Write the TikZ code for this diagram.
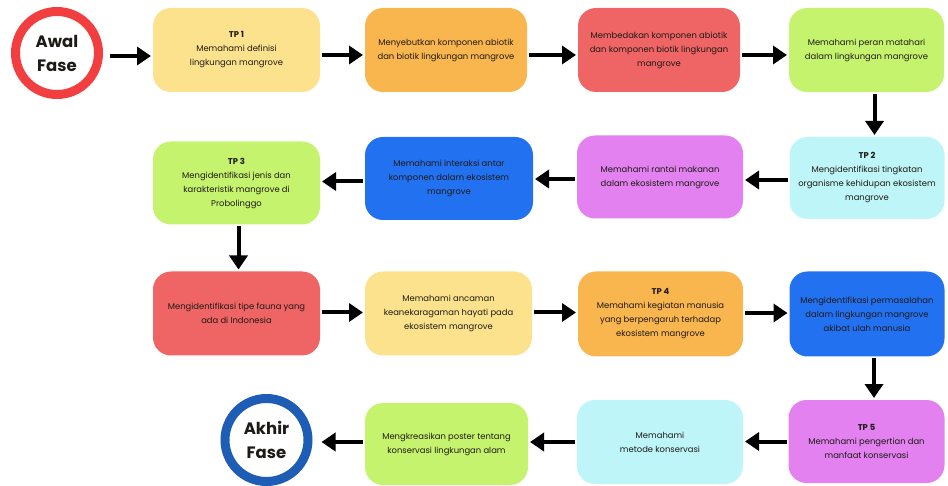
\documentclass[tikz,border=0pt]{standalone}
\usepackage{fontspec}
\setmainfont{Poppins}
\usetikzlibrary{arrows.meta,calc}
\definecolor{cyel}{HTML}{FCE28C}
\definecolor{corg}{HTML}{F9B54E}
\definecolor{cred}{HTML}{EF6464}
\definecolor{clime}{HTML}{C6F36E}
\definecolor{ccyan}{HTML}{BDF5F8}
\definecolor{cmag}{HTML}{E281EF}
\definecolor{cblue}{HTML}{2271F0}
\definecolor{ringred}{HTML}{F23E3E}
\definecolor{ringblue}{HTML}{1E5DB6}
\definecolor{ctext}{HTML}{1E1A16}
\begin{document}
\begin{tikzpicture}[x=1pt,y=-1pt,
  boxnode/.style={rectangle, rounded corners=18pt, inner sep=0pt, outer sep=0pt,
    align=center, text=ctext, font=\fontsize{8.4}{14}\selectfont},
  ringnode/.style={circle, fill=white, line width=9pt, minimum size=83pt, inner sep=0pt,
    align=center, text=ctext, font=\bfseries\fontsize{16.5}{24}\selectfont},
  arr/.style={line width=4pt, -{Triangle[length=14pt,width=18pt]},
    shorten <=2pt, shorten >=2pt}]
\useasboundingbox (0,0) rectangle (948,486);

% circles
\node[ringnode, draw=ringred] (start) at (57,53) {Awal\\Fase};
\node[ringnode, draw=ringblue] (finish) at (266.5,440) {Akhir\\Fase};

% row 1
\node[boxnode, fill=cyel, minimum width=167pt, minimum height=84pt] (b1) at (236.5,50)
  {\textbf{TP 1}\\Memahami definisi\\lingkungan mangrove};
\node[boxnode, fill=corg, minimum width=162pt, minimum height=84pt] (b2) at (446,50)
  {Menyebutkan komponen abiotik\\dan biotik lingkungan mangrove};
\node[boxnode, fill=cred, minimum width=162pt, minimum height=84pt] (b3) at (659,50)
  {Membedakan komponen abiotik\\dan komponen biotik lingkungan\\mangrove};
\node[boxnode, fill=clime, minimum width=155pt, minimum height=84pt] (b4) at (866.5,50)
  {Memahami peran matahari\\dalam lingkungan mangrove};

% row 2
\node[boxnode, fill=ccyan, minimum width=155pt, minimum height=82pt] (b5) at (867,178)
  {\textbf{TP 2}\\Mengidentifikasi tingkatan\\organisme kehidupan ekosistem\\mangrove};
\node[boxnode, fill=cmag, minimum width=166pt, minimum height=83pt] (b6) at (660,177)
  {Memahami rantai makanan\\dalam ekosistem mangrove};
\node[boxnode, fill=cblue, minimum width=168pt, minimum height=83pt] (b7) at (449,178.5)
  {Memahami interaksi antar\\komponen dalam ekosistem\\mangrove};
\node[boxnode, fill=clime, minimum width=167pt, minimum height=83pt] (b8) at (236.5,183)
  {\textbf{TP 3}\\Mengidentifikasi jenis dan\\karakteristik mangrove di\\Probolinggo};

% row 3
\node[boxnode, fill=cred, minimum width=167pt, minimum height=84pt] (b9) at (236.5,313.5)
  {Mengidentifikasi tipe fauna yang\\ada di Indonesia};
\node[boxnode, fill=cyel, minimum width=167pt, minimum height=84pt] (b10) at (448.5,313.5)
  {Memahami ancaman\\keanekaragaman hayati pada\\ekosistem mangrove};
\node[boxnode, fill=corg, minimum width=165pt, minimum height=85pt] (b11) at (660.5,314)
  {\textbf{TP 4}\\Memahami kegiatan manusia\\yang berpengaruh terhadap\\ekosistem mangrove};
\node[boxnode, fill=cblue, minimum width=155pt, minimum height=85pt] (b12) at (867,314)
  {Mengidentifikasi permasalahan\\dalam lingkungan mangrove\\akibat ulah manusia};

% row 4
\node[boxnode, fill=cmag, minimum width=156pt, minimum height=83pt] (b13) at (866.5,441.5)
  {\textbf{TP 5}\\Memahami pengertian dan\\manfaat konservasi};
\node[boxnode, fill=ccyan, minimum width=166pt, minimum height=84pt] (b14) at (660,442)
  {Memahami\\metode konservasi};
\node[boxnode, fill=clime, minimum width=163pt, minimum height=82pt] (b15) at (446.5,444)
  {Mengkreasikan poster tentang\\konservasi lingkungan alam};

% connector anchor points
\coordinate (s0) at ($(start.east)+(0,3)$);
\coordinate (s1) at ($(b1.east)+(0,5)$);
\coordinate (s2) at ($(b2.east)+(0,5)$);
\coordinate (s3) at ($(b3.east)+(0,5)$);
\coordinate (d4) at ($(b4.south)+(8,0)$);
\coordinate (s5) at ($(b5.west)+(0,2)$);
\coordinate (s6) at ($(b6.west)+(0,2)$);
\coordinate (s7) at ($(b7.west)+(0,3)$);
\coordinate (d8) at ($(b8.south)+(2,0)$);
\coordinate (s9) at ($(b9.east)+(0,-1)$);
\coordinate (s10) at ($(b10.east)+(0,-1)$);
\coordinate (s11) at ($(b11.east)+(0,-1)$);
\coordinate (d12) at ($(b12.south)+(7,0)$);
\coordinate (s13) at (b13.west);
\coordinate (s14) at (b14.west);
\coordinate (s15) at ($(b15.west)+(0,-2)$);

% row 1
\draw[arr, shorten <=7pt] (s0) -- (s0 -| b1.west);
\draw[arr] (s1) -- (s1 -| b2.west);
\draw[arr] (s2) -- (s2 -| b3.west);
\draw[arr] (s3) -- (s3 -| b4.west);
% down
\draw[arr] (d4) -- (d4 |- b5.north);
% row 2
\draw[arr] (s5) -- (s5 -| b6.east);
\draw[arr] (s6) -- (s6 -| b7.east);
\draw[arr] (s7) -- (s7 -| b8.east);
% down
\draw[arr] (d8) -- (d8 |- b9.north);
% row 3
\draw[arr] (s9) -- (s9 -| b10.west);
\draw[arr] (s10) -- (s10 -| b11.west);
\draw[arr] (s11) -- (s11 -| b12.west);
% down
\draw[arr] (d12) -- (d12 |- b13.north);
% row 4
\draw[arr] (s13) -- (s13 -| b14.east);
\draw[arr] (s14) -- (s14 -| b15.east);
\draw[arr, shorten >=9pt] (s15) -- (s15 -| finish.east);
\end{tikzpicture}
\end{document}
